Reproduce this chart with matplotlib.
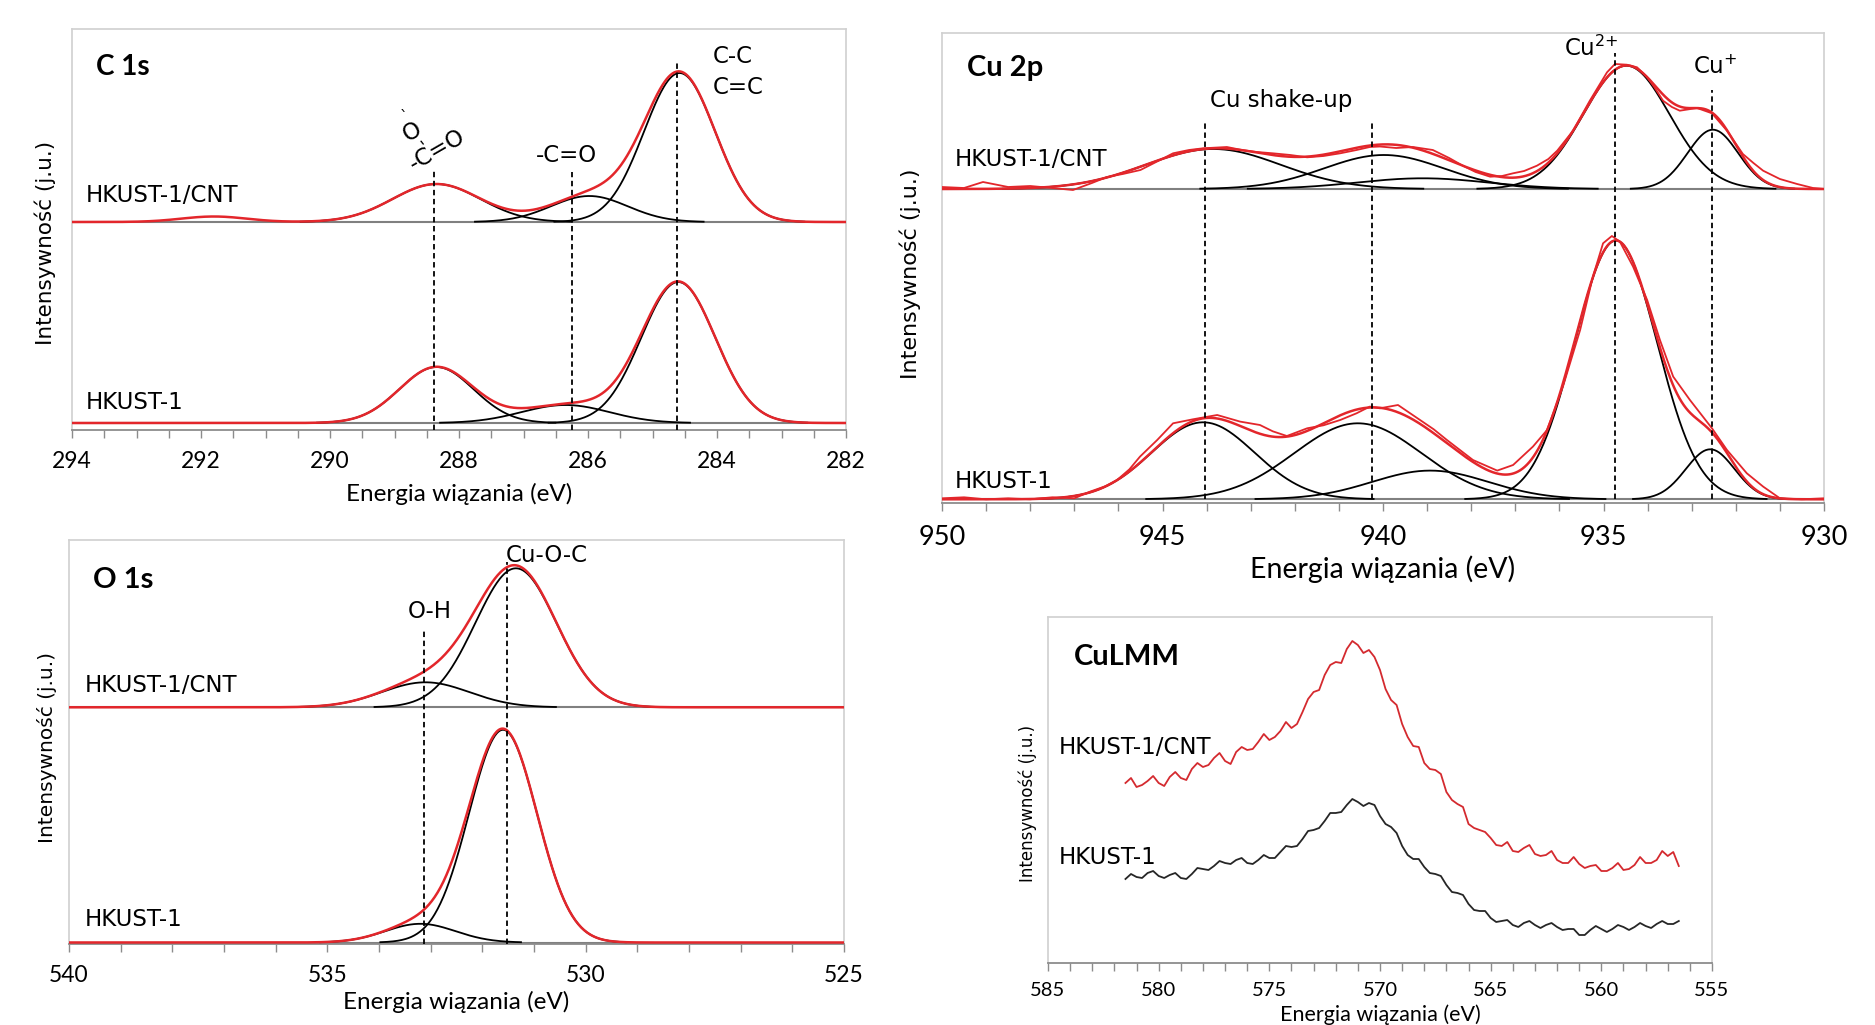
import numpy as np
import matplotlib
matplotlib.use('Agg')
import matplotlib.pyplot as plt
from matplotlib.ticker import MultipleLocator

plt.rcParams['font.family'] = ['Lato', 'DejaVu Sans']

# --- fitted components (centre eV, height, FWHM eV) ---
c1s_cnt_centers = [288.35, 285.98, 284.58]
c1s_cnt_heights = [38, 26, 149]
c1s_cnt_fwhm = [1.6, 1.4, 1.3]
c1s_cnt_extra = [291.8, 5.5, 1.2]   # small bump, only in measured curve
c1s_h_centers = [288.35, 286.35, 284.6]
c1s_h_heights = [56, 18, 141]
c1s_h_fwhm = [1.35, 1.6, 1.35]

o1s_cnt_centers = [533.1, 531.35]
o1s_cnt_heights = [25, 139]
o1s_cnt_fwhm = [2.0, 1.85]
o1s_h_centers = [533.2, 531.6]
o1s_h_heights = [18.7, 212.7]
o1s_h_fwhm = [1.6, 1.55]

cu2p_cnt_centers = [943.85, 939.98, 939.1, 934.48, 932.52]
cu2p_cnt_heights = [40, 34, 10.7, 123.3, 59.3]
cu2p_cnt_fwhm = [3.6, 3.2, 3.5, 2.3, 1.35]
cu2p_h_centers = [944.08, 940.57, 938.93, 934.72, 932.58]
cu2p_h_heights = [77, 76, 28.7, 258.7, 50]
cu2p_h_fwhm = [2.75, 3.4, 3.1, 2.2, 1.3]

# --- measured Cu 2p spectra ---
cu2p_cnt_raw_e = [950.0, 949.5, 949.07, 948.5, 948.0, 947.5, 947.03, 946.6, 946.26, 945.9,
                  945.5, 945.1, 944.76, 944.4, 944.08, 943.54, 943.2, 942.86, 942.5, 942.1,
                  941.72, 941.35, 940.97, 940.6, 940.3, 940.07, 939.7, 939.32, 938.87, 938.5,
                  938.19, 937.9, 937.57, 937.3, 937.05, 936.8, 936.51, 936.25, 936.05, 935.69,
                  935.31, 934.92, 934.74, 934.47, 934.24, 934.01, 933.85, 933.65, 933.45, 933.27,
                  932.88, 932.54, 932.2, 931.84, 931.6, 931.38, 931.0, 930.61, 930.25, 930.0]
cu2p_cnt_raw_i = [2, 1, 7, 2, 3, 1, -1, 6, 12, 15,
                  19, 28, 35.7, 39, 40.7, 42, 39, 37, 35.7, 34,
                  31.7, 33, 35.7, 39, 42, 42.5, 41, 42, 39, 31,
                  23.3, 17, 12.3, 13, 15.7, 18, 23.3, 30, 38.3, 58.3,
                  88.3, 116.7, 125, 124.3, 121.7, 111.7, 102, 88.3, 82, 78.3,
                  81, 75.7, 58.3, 35, 26, 18.3, 10, 5, 1, 0]
cu2p_h_raw_e = [950.0, 949.5, 949.0, 948.5, 948.0, 947.5, 947.0, 946.64, 946.3, 946.03,
                945.75, 945.51, 945.12, 944.76, 944.31, 943.76, 943.24, 942.79, 942.5, 942.18,
                941.72, 941.35, 940.97, 940.6, 940.3, 940.07, 939.66, 939.16, 938.85, 938.55,
                937.96, 937.41, 937.05, 936.6, 936.28, 935.92, 935.53, 935.24, 935.01, 934.81,
                934.63, 934.33, 934.01, 933.72, 933.42, 933.04, 932.54, 932.2, 931.75, 931.38,
                931.0, 930.5, 930.0]
cu2p_h_raw_i = [1, 2, 0, 1, 0, 2, 1, 7.7, 13, 19.3,
                30, 42.7, 59.3, 76, 80, 84.3, 77.7, 74.3, 68, 63.3,
                71, 74, 79.3, 86, 92.7, 91, 94.3, 79.3, 70, 59.3,
                39.3, 28.7, 34.3, 52.7, 69.3, 112.7, 169.3, 222.7, 256, 263.3,
                257.7, 232.7, 199.3, 159.3, 122.7, 99.3, 71, 49.3, 26, 12.7,
                1, 0, 1]

# --- Cu LMM spectra (581.5 -> 556.5 eV, 0.25 eV step) ---
culmm_cnt = [180, 185, 176, 178, 182, 187, 180, 177, 186, 191,
             185, 183, 194, 200, 196, 198, 205, 210, 202, 199,
             211, 216, 213, 214, 221, 229, 223, 226, 232, 241,
             235, 239, 251, 264, 271, 273, 288, 298, 301, 300,
             314, 322, 318, 310, 313, 306, 293, 274, 263, 258,
             239, 226, 217, 216, 200, 194, 193, 189, 171, 163,
             159, 156, 139, 135, 133, 131, 125, 118, 117, 121,
             112, 111, 115, 118, 109, 107, 108, 112, 103, 100,
             100, 106, 99, 95, 97, 98, 92, 92, 95, 100,
             93, 94, 98, 106, 100, 100, 103, 112, 107, 111,
             97]
culmm_h = [84, 89, 86, 85, 90, 92, 87, 85, 88, 90,
           85, 84, 89, 95, 94, 93, 97, 102, 100, 99,
           103, 105, 100, 99, 103, 108, 105, 105, 111, 117,
           116, 117, 124, 132, 133, 135, 142, 150, 150, 151,
           158, 164, 161, 157, 160, 158, 147, 139, 136, 130,
           117, 108, 104, 104, 96, 90, 89, 87, 78, 71,
           70, 68, 59, 53, 52, 52, 45, 41, 42, 43,
           38, 36, 40, 42, 38, 35, 38, 40, 36, 33,
           34, 34, 28, 28, 33, 37, 34, 31, 34, 38,
           36, 33, 36, 40, 37, 35, 39, 42, 39, 39,
           42]
culmm_energy = np.linspace(581.5, 556.5, len(culmm_cnt))

RED = '#e3262b'
W, H = 1875, 1025
fig = plt.figure(figsize=(W / 100, H / 100), dpi=100)


def panel(left, top, right, bottom):
    return fig.add_axes([left / W, 1 - bottom / H, (right - left) / W, (bottom - top) / H])


def style(ax, xlim, major, minor, ymax, tsize, xsize, pad, xl_y, yl_pos, yl_size):
    ax.set_xlim(*xlim)
    ax.set_ylim(0, ymax)
    ax.xaxis.set_major_locator(MultipleLocator(major))
    ax.xaxis.set_minor_locator(MultipleLocator(minor))
    ax.set_yticks([])
    for s in ['top', 'right', 'left']:
        ax.spines[s].set_color('#d0d0d0')
        ax.spines[s].set_linewidth(1.2)
    ax.spines['bottom'].set_color('#8c8c8c')
    ax.spines['bottom'].set_linewidth(1.3)
    ax.tick_params(axis='x', which='both', direction='out', length=6, width=1,
                   color='#8c8c8c', labelsize=tsize, pad=pad)
    ax.set_xlabel('Energia wiązania (eV)', fontsize=xsize)
    ax.xaxis.set_label_coords(0.5, xl_y)
    ax.xaxis.label.set_verticalalignment('center')
    ax.set_ylabel('Intensywność (j.u.)', fontsize=yl_size, family='DejaVu Sans')
    ax.yaxis.set_label_coords(*yl_pos)
    ax.yaxis.label.set_verticalalignment('center')


def gauss(x, c, h, w):
    return h * np.exp(-4 * np.log(2) * (x - c) ** 2 / w ** 2)


def fit(ax, x, base, centers, heights, widths, extra=None):
    total = np.zeros_like(x)
    for c, h, w in zip(centers, heights, widths):
        g = gauss(x, c, h, w)
        total += g
        m = g > 0.3
        ax.plot(x[m], base + g[m], color='black', lw=1.3, zorder=3)
    if extra is not None:
        total += gauss(x, *extra)
    ax.axhline(base, color='#808080', lw=1.5, zorder=2)
    ax.plot(x, base + total, color=RED, lw=1.8, zorder=5)


def dashed(ax, x, y0, y1):
    ax.plot([x, x], [y0, y1], color='black', lw=1.3, ls=(0, (3, 2)), zorder=6)


def lbl(ax, x, y, s, size=16.5, **kw):
    kw.setdefault('ha', 'left')
    kw.setdefault('va', 'center')
    ax.text(x, y, s, fontsize=size, family='DejaVu Sans', **kw)


def title(ax, x, y, s, size=20):
    ax.text(x, y, s, fontsize=size, fontweight='bold', ha='left', va='center')


# ---------- C 1s ----------
ax = panel(72, 29, 846, 430)
style(ax, (294, 282), 2, 0.5, 401, 16.5, 17.5, 9, -0.16, (-0.034, 0.466), 15.5)
x = np.linspace(294, 282, 800)
fit(ax, x, 208, c1s_cnt_centers, c1s_cnt_heights, c1s_cnt_fwhm, c1s_cnt_extra)
fit(ax, x, 7, c1s_h_centers, c1s_h_heights, c1s_h_fwhm)
dashed(ax, 288.39, 0, 260)
dashed(ax, 286.25, 0, 258)
dashed(ax, 284.62, 0, 368)
title(ax, 293.63, 363, 'C 1s')
lbl(ax, 284.06, 373, 'C-C')
lbl(ax, 284.06, 342, 'C=C')
lbl(ax, 286.33, 274, '-C=O', ha='center')
lbl(ax, 288.34, 280, '-C=O', ha='center', rotation=30, rotation_mode='anchor')
lbl(ax, 288.73, 298, 'O', ha='center', rotation=30, rotation_mode='anchor')
lbl(ax, 288.59, 288, '-', ha='center', rotation=-51, rotation_mode='anchor', size=13)
lbl(ax, 288.86, 312, '`', ha='center', size=11)
lbl(ax, 293.78, 234, 'HKUST-1/CNT')
lbl(ax, 293.78, 27, 'HKUST-1')

# ---------- Cu 2p ----------
ax = panel(942, 33, 1824, 503)
style(ax, (950, 930), 5, 1, 470, 19.5, 20.5, 10, -0.14, (-0.036, 0.487), 16)
x = np.linspace(950, 930, 800)
fit(ax, x, 314, cu2p_cnt_centers, cu2p_cnt_heights, cu2p_cnt_fwhm)
fit(ax, x, 3.7, cu2p_h_centers, cu2p_h_heights, cu2p_h_fwhm)
ax.plot(cu2p_cnt_raw_e, 314 + np.array(cu2p_cnt_raw_i), color=RED, lw=1.3, zorder=5)
ax.plot(cu2p_h_raw_e, 3.7 + np.array(cu2p_h_raw_i), color=RED, lw=1.3, zorder=5)
dashed(ax, 944.04, 4, 383)
dashed(ax, 940.25, 4, 383)
dashed(ax, 934.75, 4, 450)
dashed(ax, 932.55, 4, 413)
title(ax, 949.43, 435, 'Cu 2p', size=21)
lbl(ax, 942.31, 403, 'Cu shake-up', ha='center')
lbl(ax, 935.28, 455, 'Cu$^{2{+}}$', ha='center')
lbl(ax, 932.47, 436, 'Cu$^{{+}}$', ha='center')
lbl(ax, 949.7, 344, 'HKUST-1/CNT')
lbl(ax, 949.7, 22, 'HKUST-1')

# ---------- O 1s ----------
ax = panel(69, 539.5, 844, 944)
style(ax, (540, 525), 5, 1, 404.5, 16.5, 17.5, 9, -0.143, (-0.029, 0.485), 14.5)
x = np.linspace(540, 525, 800)
fit(ax, x, 236.7, o1s_cnt_centers, o1s_cnt_heights, o1s_cnt_fwhm)
fit(ax, x, 1.5, o1s_h_centers, o1s_h_heights, o1s_h_fwhm)
dashed(ax, 533.13, 0, 314)
dashed(ax, 531.53, 0, 382)
title(ax, 539.54, 364, 'O 1s', size=21)
lbl(ax, 533.01, 332, 'O-H', ha='center')
lbl(ax, 531.54, 389, 'Cu-O-C')
lbl(ax, 539.69, 258, 'HKUST-1/CNT')
lbl(ax, 539.69, 24, 'HKUST-1')

# ---------- Cu LMM ----------
ax = panel(1048, 617, 1712, 963)
style(ax, (585, 555), 5, 1, 346, 14.5, 15.5, 8, -0.15, (-0.030, 0.462), 12)
ax.plot(culmm_energy, culmm_cnt, color='#d42a2f', lw=1.3)
ax.plot(culmm_energy, culmm_h, color='#262626', lw=1.3)
title(ax, 583.83, 306, 'CuLMM', size=21)
lbl(ax, 584.5, 216, 'HKUST-1/CNT')
lbl(ax, 584.5, 106, 'HKUST-1')

fig.savefig('out.png', dpi=100)
